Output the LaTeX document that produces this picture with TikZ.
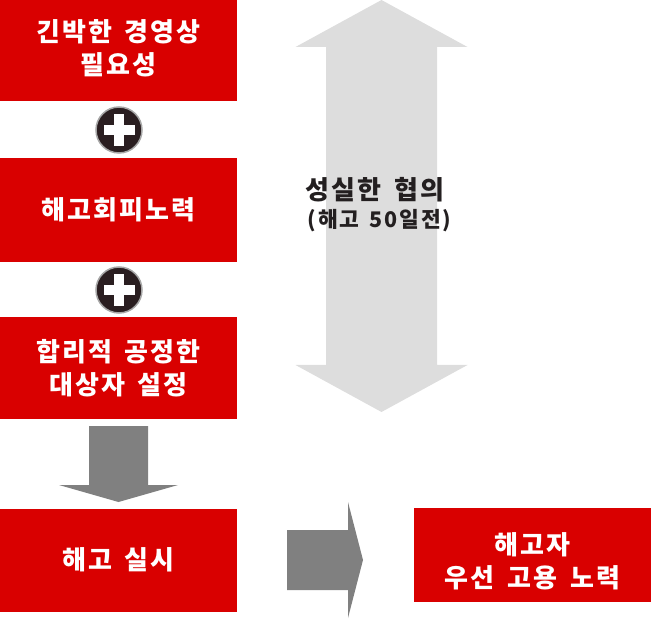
\documentclass[tikz,border=0pt]{standalone}
\usepackage{fontspec}
\setmainfont{Noto Sans CJK KR}[LetterSpace=8,WordSpace=1.6]
\definecolor{boxred}{HTML}{D90000}
\definecolor{arrgray}{HTML}{808080}
\definecolor{lightarr}{HTML}{DDDDDD}
\definecolor{darktxt}{HTML}{231F20}
\definecolor{plusdark}{HTML}{2A1E20}
\begin{document}
\begin{tikzpicture}[x=1pt,y=-1pt,
  redbox/.style={fill=boxred, inner sep=0pt, minimum width=237pt},
  boxtext/.style={text=white, font=\fontsize{26}{33}\selectfont\bfseries, align=center},
  plusicon/.style={circle, fill=plusdark, draw=gray!70, line width=1.5pt, minimum size=46pt, inner sep=0pt}]
\useasboundingbox (0,0) rectangle (651,620);
% double arrow
\fill[lightarr] (381.5,0) -- (467.5,47) -- (437,47) -- (437,365) -- (467.5,365) -- (381.5,412)
  -- (295.5,365) -- (326,365) -- (326,47) -- (295.5,47) -- cycle;
\node[text=darktxt, font=\fontsize{26}{30}\selectfont\bfseries, align=center] (coop) at (375,190) {성실한 협의};
\node[text=darktxt, font=\fontsize{21.5}{24}\selectfont\bfseries, align=center] (coop2) at (379.5,220.5) {(해고 50일전)};
% left boxes
\node[redbox, minimum height=101pt] (b1) at (118.5,50.5) {};
\node[boxtext] (t1) at (118.5,48) {긴박한 경영상\\필요성};
\node[redbox, minimum height=104pt] (b2) at (118.5,210) {};
\node[boxtext] (t2) at (118.5,210) {해고회피노력};
\node[redbox, minimum height=102pt] (b3) at (118.5,368) {};
\node[boxtext] (t3) at (118.5,368) {합리적 공정한\\대상자 설정};
\node[redbox, minimum height=103pt] (b4) at (118.5,560.5) {};
\node[boxtext] (t4) at (118.5,560) {해고 실시};
\node[redbox, minimum height=94pt] (b5) at (532.5,555) {};
\node[boxtext] (t5) at (532.5,561) {해고자\\우선 고용 노력};
% plus icons
\foreach \n/\y in {p1/130, p2/290}{
  \node[plusicon] (\n) at (119,\y) {};
  \fill[white] ([xshift=-15.5pt,yshift=5pt]\n.center) rectangle ([xshift=15.5pt,yshift=-5pt]\n.center);
  \fill[white] ([xshift=-5pt,yshift=16pt]\n.center) rectangle ([xshift=5pt,yshift=-16pt]\n.center);
}
% down arrow
\fill[arrgray] (89,426) -- (148,426) -- (148,485) -- (178,485) -- (118.5,502) -- (59,485) -- (89,485) -- cycle;
% right arrow
\fill[arrgray] (287,530) -- (348,530) -- (348,502) -- (363,560) -- (348,618) -- (348,590) -- (287,590) -- cycle;
\end{tikzpicture}
\end{document}
